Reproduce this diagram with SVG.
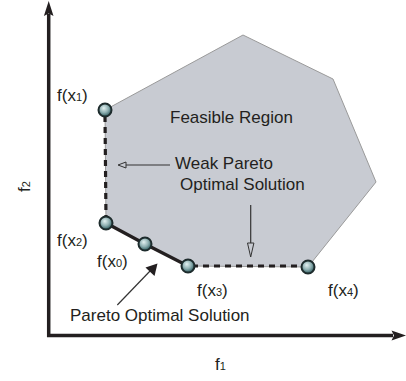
<svg xmlns="http://www.w3.org/2000/svg" width="406" height="381" viewBox="0 0 406 381">
<style>
text{font-family:"Liberation Sans",Arial,sans-serif;font-size:17px;fill:#231f20}
.sub{font-size:11px}
.region{fill:#c8cbd2;stroke:#9a9a9a;stroke-width:1}
.axis{fill:none;stroke:#231f20;stroke-width:3.5;stroke-linejoin:miter}
.axhead{fill:#231f20}
.dash{fill:none;stroke:#231f20;stroke-width:3.2;stroke-dasharray:6 5}
.solid{fill:none;stroke:#231f20;stroke-width:3.2}
.thin{fill:none;stroke:#333;stroke-width:1.2}
.open{fill:#c8cbd2;stroke:#333;stroke-width:1}
.node{fill:url(#ball);stroke:#1d2b2c;stroke-width:2}
</style>
<defs>
<radialGradient id="ball" cx="0.45" cy="0.4" r="0.6" fx="0.4" fy="0.35">
<stop offset="0" stop-color="#e4f2f2"/>
<stop offset="0.55" stop-color="#8fb0b2"/>
<stop offset="1" stop-color="#2c5a5d"/>
</radialGradient>
</defs>
<g id="feasible-region">
<polygon class="region" points="105,110 243,35 333,79 376,182 308,267 188,266 145,244 106,223"/>
<text x="170" y="123">Feasible Region</text>
</g>
<g id="axes">
<path class="axis" d="M48.7,14 V335.5 H393"/>
<polygon class="axhead" points="48.7,1 53.5,16 48.7,13.5 43.9,16"/>
<polygon class="axhead" points="406,335.5 391.5,330.5 394,335.5 391.5,340.5"/>
<text transform="translate(30,192) rotate(-90)">f<tspan class="sub">2</tspan></text>
<text x="215" y="370">f<tspan class="sub">1</tspan></text>
</g>
<g id="connectors">
<line class="dash" x1="105" y1="116" x2="106" y2="219"/>
<line class="dash" x1="192" y1="266" x2="303" y2="266"/>
<polyline class="solid" points="106,223 145,244 188,266"/>
<line class="thin" x1="170" y1="165" x2="124" y2="165"/>
<polygon class="open" points="118,165 126,162 126,168"/>
<line class="thin" x1="250.7" y1="205" x2="250.7" y2="244"/>
<polygon class="open" points="250.7,257 247.5,243 253.9,243"/>
<line class="thin" x1="117.3" y1="305" x2="151" y2="270"/>
<polygon class="axhead" points="157.5,263.5 154.5,276 145.5,267.5"/>
</g>
<g id="weak-label">
<text x="175" y="169">Weak Pareto</text>
<text x="180" y="190">Optimal Solution</text>
</g>
<g id="pareto-label">
<text x="70" y="321">Pareto Optimal Solution</text>
</g>
<g id="x1"><circle class="node" cx="105" cy="110" r="6.5"/><text x="57" y="101">f(x<tspan class="sub">1</tspan>)</text></g>
<g id="x2"><circle class="node" cx="106" cy="223" r="6.5"/><text x="57" y="246">f(x<tspan class="sub">2</tspan>)</text></g>
<g id="x0"><circle class="node" cx="145" cy="244" r="6.5"/><text x="97" y="267">f(x<tspan class="sub">0</tspan>)</text></g>
<g id="x3"><circle class="node" cx="188" cy="266" r="6.5"/><text x="197" y="296">f(x<tspan class="sub">3</tspan>)</text></g>
<g id="x4"><circle class="node" cx="308" cy="267" r="6.5"/><text x="328" y="296">f(x<tspan class="sub">4</tspan>)</text></g>
</svg>
